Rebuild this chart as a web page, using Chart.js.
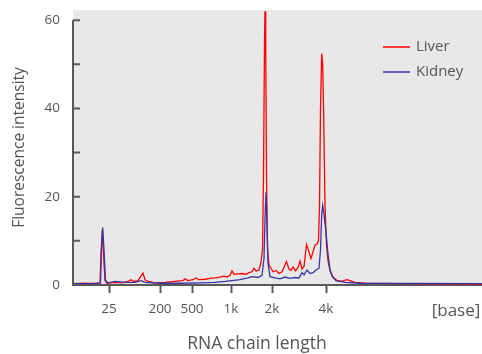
<!DOCTYPE html>
<html>
<head>
<meta charset="utf-8">
<script src="https://cdn.jsdelivr.net/npm/chart.js@4/dist/chart.umd.min.js"></script>
<style>
  html, body { margin: 0; padding: 0; background: #fff; }
</style>
</head>
<body>
<canvas id="chart" width="482" height="354"></canvas>
<script>
const tickPos = [36, 87, 119, 158, 199, 253, 383];
const tickLabels = ["25", "200", "500", "1k", "2k", "4k", "[base]"];
const yTicks = [0, 10, 20, 30, 40, 50, 60];

const liverX = [0, 12, 22, 27, 28, 29.3, 30.5, 32, 34, 42, 49, 55, 58, 61, 65, 68, 70, 72, 75, 82,
  92, 102, 110, 112, 115, 120, 123, 126, 132, 137, 142, 147, 151, 154, 157, 159, 161, 165, 169, 173,
  176, 179, 181, 183, 186, 188, 189.5, 190.5, 191.5, 192, 192.7, 193.5, 194.5, 196, 198, 200, 203, 206, 209, 211,
  213.5, 216, 218, 220, 222.5, 225, 227, 229, 231, 233.5, 236, 238, 240, 242, 244, 245.5, 246.5, 247.5, 248.7, 249.7,
  250.7, 252, 253.5, 255, 257, 260, 264, 269, 274, 277, 282, 292, 327, 409];
const liverY = [0.3, 0.4, 0.3, 0.4, 7, 12.5, 7, 1, 0.4, 0.6, 0.5, 0.8, 1.2, 0.8, 1.0, 2.0, 2.7, 1.2, 0.8, 0.5,
  0.6, 0.8, 1.0, 1.4, 1.0, 1.2, 1.6, 1.2, 1.3, 1.5, 1.6, 1.8, 2.0, 1.8, 2.2, 3.2, 2.4, 2.5, 2.6, 2.4,
  2.8, 3.0, 3.8, 3.2, 3.4, 5.2, 8, 25, 55, 62, 55, 25, 8, 4.5, 3.8, 3.0, 3.3, 2.6, 3.0, 4.0,
  5.3, 3.6, 3.3, 4.1, 3.2, 4.0, 5.4, 3.6, 4.2, 9.2, 7.5, 6.0, 7.5, 9.0, 9.3, 10, 18, 40, 52.4, 50,
  38, 18, 9, 5.5, 3.2, 1.8, 1.0, 0.9, 1.2, 1.0, 0.6, 0.4, 0.3, 0.2];

const kidneyX = [0, 17, 27.5, 28.5, 29.7, 31, 32.5, 35, 42, 52, 62, 68, 72, 87, 107, 127, 142, 152, 159, 167,
  175, 179, 185, 189, 191, 192, 193, 194, 195, 197, 202, 207, 212, 217, 222, 226, 229, 231, 234, 237,
  240, 243, 246, 247.5, 248.7, 249.7, 251, 253, 255, 257, 259, 263, 272, 287, 409];
const kidneyY = [0.3, 0.3, 0.5, 8, 13, 8, 1, 0.5, 0.8, 0.6, 0.6, 1.0, 0.6, 0.4, 0.4, 0.5, 0.6, 0.8, 1.0, 1.2,
  1.6, 1.9, 1.7, 2.2, 6, 15, 21, 14, 5, 1.9, 1.6, 1.4, 1.8, 1.5, 1.7, 1.6, 2.8, 2.3, 3.4, 2.6,
  2.8, 3.4, 3.8, 8, 16, 18, 16, 12, 7, 3.5, 2, 1.0, 0.6, 0.4, 0.3];

const axisColor = "#595959";
const textColor = "#555555";
const fontFamily = "'Open Sans', sans-serif";

const toPoints = (xs, ys) => xs.map((x, i) => ({ x: x, y: ys[i] }));

const areaBg = {
  id: "areaBg",
  beforeDraw(chart) {
    const { ctx, chartArea: a } = chart;
    ctx.save();
    ctx.fillStyle = "#e8e8e8";
    ctx.fillRect(a.left, a.top, a.right - a.left, a.bottom - a.top);
    ctx.restore();
  }
};

// y axis line stops at 60 and its ticks point into the plot
const yAxisLine = {
  id: "yAxisLine",
  afterDatasetsDraw(chart) {
    const { ctx, chartArea: a, scales } = chart;
    const y = scales.y;
    ctx.save();
    ctx.strokeStyle = axisColor;
    ctx.lineWidth = 2;
    ctx.beginPath();
    ctx.moveTo(a.left, y.getPixelForValue(yTicks[yTicks.length - 1]));
    ctx.lineTo(a.left, a.bottom + 1);
    yTicks.forEach(v => {
      const py = y.getPixelForValue(v);
      ctx.moveTo(a.left, py);
      ctx.lineTo(a.left + 7, py);
    });
    ctx.stroke();
    ctx.restore();
  }
};

const innerLegend = {
  id: "innerLegend",
  afterDraw(chart) {
    const ctx = chart.ctx;
    ctx.save();
    ctx.font = "15px " + fontFamily;
    ctx.textBaseline = "middle";
    chart.data.datasets.forEach((ds, i) => {
      const ly = 47 + i * 25;
      ctx.strokeStyle = ds.borderColor;
      ctx.lineWidth = 1.5;
      ctx.beginPath();
      ctx.moveTo(383, ly);
      ctx.lineTo(410, ly);
      ctx.stroke();
      ctx.fillStyle = textColor;
      ctx.fillText(ds.label, 416, ly);
    });
    ctx.restore();
  }
};

// x title sits left of the plot centre in the original
const xTitle = {
  id: "xTitle",
  afterDraw(chart) {
    const ctx = chart.ctx;
    ctx.save();
    ctx.font = "17.5px " + fontFamily;
    ctx.fillStyle = textColor;
    ctx.textAlign = "center";
    ctx.textBaseline = "middle";
    ctx.fillText("RNA chain length", 257, 344);
    ctx.restore();
  }
};

new Chart(document.getElementById("chart"), {
  type: "line",
  data: {
    datasets: [
      {
        label: "Liver",
        data: toPoints(liverX, liverY),
        borderColor: "#ff0000",
        borderWidth: 1.3,
        pointRadius: 0,
        tension: 0,
        order: 1
      },
      {
        label: "Kidney",
        data: toPoints(kidneyX, kidneyY),
        borderColor: "#3535a5",
        borderWidth: 1.3,
        pointRadius: 0,
        tension: 0,
        order: 0
      }
    ]
  },
  options: {
    responsive: false,
    animation: false,
    layout: { padding: { top: 10, left: 0, right: 0, bottom: 0 } },
    plugins: {
      legend: { display: false },
      tooltip: { enabled: false }
    },
    scales: {
      x: {
        type: "linear",
        min: 0,
        max: 409,
        afterBuildTicks: scale => { scale.ticks = tickPos.map(v => ({ value: v })); },
        afterFit: scale => {
          scale.height = 69;
          scale.paddingLeft = 0;
          scale.paddingRight = 0;
        },
        border: { display: true, color: axisColor, width: 2 },
        grid: {
          drawOnChartArea: false,
          drawTicks: true,
          tickLength: 8,
          tickWidth: 2,
          tickColor: ctx => (ctx.index === tickPos.length - 1 ? "rgba(0,0,0,0)" : axisColor)
        },
        ticks: {
          autoSkip: false,
          maxRotation: 0,
          padding: 8,
          color: textColor,
          font: ctx => ({ family: fontFamily, size: ctx.index === tickPos.length - 1 ? 17 : 13.5 }),
          callback: (value, index) => tickLabels[index]
        }
      },
      y: {
        min: 0,
        max: 62.3,
        afterBuildTicks: scale => { scale.ticks = yTicks.map(v => ({ value: v })); },
        afterFit: scale => {
          scale.width = 73;
          scale.paddingTop = 0;
          scale.paddingBottom = 0;
        },
        border: { display: false },
        grid: { display: false, drawTicks: false },
        ticks: {
          padding: 13,
          color: textColor,
          font: { family: fontFamily, size: 13.5 },
          callback: v => (v % 20 === 0 ? v : "")
        },
        title: {
          display: true,
          text: "Fluorescence intensity",
          color: textColor,
          font: { family: fontFamily, size: 15.5 },
          padding: { top: 10, bottom: 0 }
        }
      }
    }
  },
  plugins: [areaBg, yAxisLine, innerLegend, xTitle]
});
</script>
</body>
</html>
